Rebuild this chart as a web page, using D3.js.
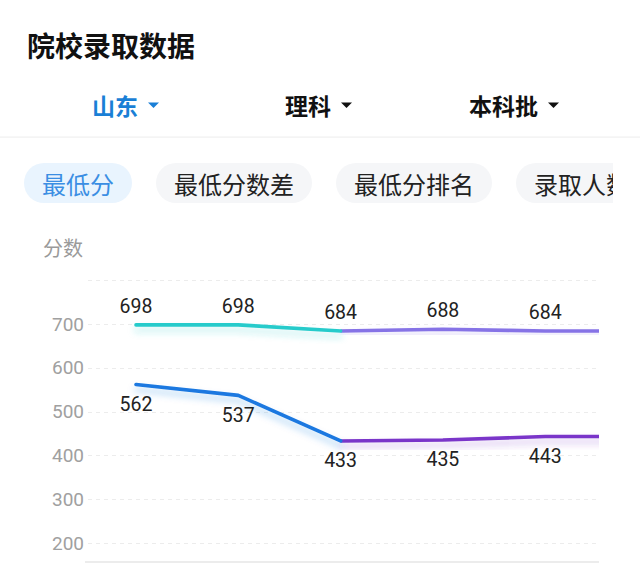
<!DOCTYPE html>
<html>
<head>
<meta charset="utf-8">
<script src="https://cdn.jsdelivr.net/npm/d3@7/dist/d3.min.js"></script>
<style>
  html, body { margin: 0; padding: 0; background: #fff; }
  svg { display: block; }
  text { font-family: "Roboto", "Noto Sans CJK SC", sans-serif; }
  .cjk { font-family: "Noto Sans CJK SC", "Noto Sans", sans-serif; }
</style>
</head>
<body>
<svg id="chart" width="640" height="564"></svg>
<script>
// ---- data ----
const title = "院校录取数据";
const filters = ["山东", "理科", "本科批"];
const tabs = ["最低分", "最低分数差", "最低分排名", "录取人数"];
const yAxisName = "分数";
const categories = ["2018", "2019", "2020", "2021", "2022", "2023"];
const seriesHigh = [698, 698, 684, 688, 684, 684];
const seriesLow = [562, 537, 433, 435, 443, 443];
const yTicks = [200, 300, 400, 500, 600, 700, 800];
const labelCount = 5; // visible labelled points

// ---- layout ----
const svg = d3.select("#chart");
const W = 640;

// Title
svg.append("text").attr("class", "cjk")
  .attr("x", 27).attr("y", 45).attr("dominant-baseline", "central")
  .attr("font-size", 28).attr("font-weight", "bold").attr("fill", "#111")
  .text(title);

// Filter dropdowns
const filterX = [92, 285, 469];
filters.forEach((f, i) => {
  const col = i === 0 ? "#1a7fd6" : "#111";
  svg.append("text").attr("class", "cjk")
    .attr("x", filterX[i]).attr("y", 105).attr("dominant-baseline", "central")
    .attr("font-size", 23).attr("font-weight", "bold").attr("fill", col)
    .text(f);
  const tx = filterX[i] + f.length * 23 + 10;
  svg.append("path")
    .attr("d", `M${tx},102.5 L${tx + 11},102.5 L${tx + 5.5},108 Z`)
    .attr("fill", col);
});

// separator
svg.append("rect").attr("x", 0).attr("y", 136.5).attr("width", W).attr("height", 1.2)
  .attr("fill", "#f0f0f0");

// Tabs (pills)
const defs = svg.append("defs");
defs.append("clipPath").attr("id", "pillclip")
  .append("rect").attr("x", 0).attr("y", 150).attr("width", 613).attr("height", 70);
const pillG = svg.append("g").attr("clip-path", "url(#pillclip)");
let px = 24;
const pfs = 24, pad = 18, gap = 24;
tabs.forEach((t, i) => {
  const w = t.length * pfs + pad * 2;
  pillG.append("rect").attr("x", px).attr("y", 163).attr("width", w).attr("height", 40)
    .attr("rx", 20).attr("fill", i === 0 ? "#e9f4fe" : "#f5f6f8");
  pillG.append("text").attr("class", "cjk")
    .attr("x", px + pad).attr("y", 183).attr("dominant-baseline", "central")
    .attr("font-size", pfs).attr("fill", i === 0 ? "#3b8ee3" : "#222")
    .text(t);
  px += w + gap;
});

// ---- chart ----
const plotLeft = 85, plotRight = 599, plotBottom = 562;
const y = d3.scaleLinear().domain([200, 700]).range([543, 324]);
const x = d3.scalePoint().domain(categories).range([136, 647.5]);

// y-axis name
svg.append("text").attr("class", "cjk")
  .attr("x", 43).attr("y", 247).attr("dominant-baseline", "central")
  .attr("font-size", 20).attr("fill", "#9a9a9a").text(yAxisName);

// grid lines
svg.append("g").selectAll("line").data(yTicks).join("line")
  .attr("x1", plotLeft + 3).attr("x2", plotRight)
  .attr("y1", d => Math.round(y(d)) + 0.5).attr("y2", d => Math.round(y(d)) + 0.5)
  .attr("stroke", "#ececec").attr("stroke-width", 1).attr("stroke-dasharray", "4,4");

// y tick labels (except top)
svg.append("g").selectAll("text").data(yTicks.filter(d => d < 800)).join("text")
  .attr("x", 84).attr("y", d => y(d)).attr("dy", "0.35em")
  .attr("text-anchor", "end").attr("font-size", 19).attr("fill", "#a0a0a0")
  .text(d => d);

// baseline
svg.append("rect").attr("x", plotLeft).attr("y", plotBottom - 1).attr("width", plotRight - plotLeft)
  .attr("height", 2).attr("fill", "#ececec");

// clip for plot
defs.append("clipPath").attr("id", "plotclip")
  .append("rect").attr("x", plotLeft).attr("y", 260).attr("width", plotRight - plotLeft).attr("height", 310);

function shadowFilter(id, color) {
  const f = defs.append("filter").attr("id", id)
    .attr("x", "-10%").attr("y", "-200%").attr("width", "120%").attr("height", "500%");
  f.append("feDropShadow").attr("dx", 0).attr("dy", 5).attr("stdDeviation", 3.5)
    .attr("flood-color", color).attr("flood-opacity", 0.32);
}
shadowFilter("shTeal", "#25cccc");
shadowFilter("shPurpleA", "#8673e6");
shadowFilter("shBlue", "#1a78e0");
shadowFilter("shPurpleB", "#7a35c9");

const plotG = svg.append("g").attr("clip-path", "url(#plotclip)");
const line = d3.line().x(d => x(d.c)).y(d => y(d.v)).curve(d3.curveLinear);

function drawSeries(values, colA, colB, fA, fB) {
  const pts = values.map((v, i) => ({ c: categories[i], v }));
  const segA = pts.slice(0, 3), segB = pts.slice(2);
  plotG.append("path").datum(segB).attr("d", line).attr("fill", "none")
    .attr("stroke", colB).attr("stroke-width", 3.6).attr("stroke-linejoin", "round")
    .attr("filter", `url(#${fB})`);
  plotG.append("path").datum(segA).attr("d", line).attr("fill", "none")
    .attr("stroke", colA).attr("stroke-width", 3.6).attr("stroke-linejoin", "round")
    .attr("stroke-linecap", "round").attr("filter", `url(#${fA})`);
}
drawSeries(seriesHigh, "#27cbcb", "#8673e6", "shTeal", "shPurpleA");
drawSeries(seriesLow, "#1a78e0", "#7a35c9", "shBlue", "shPurpleB");

// labels
svg.append("g").selectAll("text").data(seriesHigh.slice(0, labelCount)).join("text")
  .attr("x", (d, i) => x(categories[i])).attr("y", d => y(d) - 19).attr("dy", "0.35em")
  .attr("text-anchor", "middle").attr("font-size", 19.5).attr("fill", "#222")
  .text(d => d);
svg.append("g").selectAll("text").data(seriesLow.slice(0, labelCount)).join("text")
  .attr("x", (d, i) => x(categories[i])).attr("y", d => y(d) + 19.5).attr("dy", "0.35em")
  .attr("text-anchor", "middle").attr("font-size", 19.5).attr("fill", "#222")
  .text(d => d);
</script>
</body>
</html>
